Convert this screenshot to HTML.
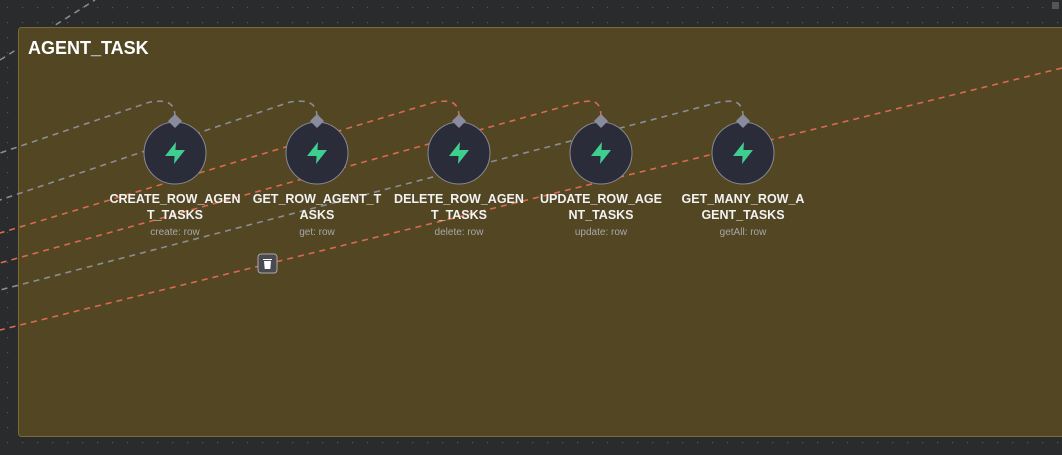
<!DOCTYPE html>
<html><head><style>
body{margin:0;width:1062px;height:450px;overflow:hidden;background:#2a2b2d;font-family:"Liberation Sans",sans-serif}
</style></head><body>
<svg width="1062" height="450" xmlns="http://www.w3.org/2000/svg">
<defs><pattern id="d" width="15" height="15" patternUnits="userSpaceOnUse"><rect x="7" y="7" width="1.2" height="1.2" fill="#55575a"/></pattern></defs>
<rect width="1062" height="450" fill="url(#d)"/>
<path d="M0,60 L95,0" stroke="#8a8d94" stroke-width="1.5" stroke-dasharray="6,5" fill="none"/>
<rect x="18.5" y="27.5" width="1060" height="409" rx="3" fill="#524623" stroke="#7a6b2e"/>
<text x="28" y="54" fill="#fff" font-size="18" font-weight="bold">AGENT_TASK</text>
<g fill="none" stroke-width="1.6" stroke-dasharray="6,5">
<path d="M175,117 C175,98 160,101 150,102 L0,153" stroke="#8a8d94"/>
<path d="M317,117 C317,98 300,101 290,102 L0,200" stroke="#8a8d94"/>
<path d="M459,117 C459,98 445,101 435,102 L0,233" stroke="#d96a4f"/>
<path d="M601,117 C601,98 590,101 580,102 L0,263" stroke="#d96a4f"/>
<path d="M743,117 C743,98 730,101 720,102 L0,290" stroke="#8a8d94"/>
<path d="M1062,68 L0,330" stroke="#d96a4f"/>
</g>
<g id="n">
</g>
<g stroke="#8a8a94" stroke-width="1">
<circle cx="175" cy="153" r="31" fill="#2a2c3a"/><circle cx="317" cy="153" r="31" fill="#2a2c3a"/><circle cx="459" cy="153" r="31" fill="#2a2c3a"/><circle cx="601" cy="153" r="31" fill="#2a2c3a"/><circle cx="743" cy="153" r="31" fill="#2a2c3a"/>
</g>
<g fill="#8a8b9c">
<path d="M175,114l7,7-7,7-7-7z"/><path d="M317,114l7,7-7,7-7-7z"/><path d="M459,114l7,7-7,7-7-7z"/><path d="M601,114l7,7-7,7-7-7z"/><path d="M743,114l7,7-7,7-7-7z"/>
</g>
<g fill="#3ecf8e">
<path transform="translate(175,153)" d="M1,-11 L-10,3 L0,3 Z M-1,11 L10,-3 L0,-3 Z"/>
<path transform="translate(317,153)" d="M1,-11 L-10,3 L0,3 Z M-1,11 L10,-3 L0,-3 Z"/>
<path transform="translate(459,153)" d="M1,-11 L-10,3 L0,3 Z M-1,11 L10,-3 L0,-3 Z"/>
<path transform="translate(601,153)" d="M1,-11 L-10,3 L0,3 Z M-1,11 L10,-3 L0,-3 Z"/>
<path transform="translate(743,153)" d="M1,-11 L-10,3 L0,3 Z M-1,11 L10,-3 L0,-3 Z"/>
</g>
<g fill="#f2f2f2" font-size="12.5" font-weight="bold" text-anchor="middle">
<text x="175" y="203">CREATE_ROW_AGEN</text><text x="175" y="219">T_TASKS</text>
<text x="317" y="203">GET_ROW_AGENT_T</text><text x="317" y="219">ASKS</text>
<text x="459" y="203">DELETE_ROW_AGEN</text><text x="459" y="219">T_TASKS</text>
<text x="601" y="203">UPDATE_ROW_AGE</text><text x="601" y="219">NT_TASKS</text>
<text x="743" y="203">GET_MANY_ROW_A</text><text x="743" y="219">GENT_TASKS</text>
</g>
<g fill="#a8a8a8" font-size="10" text-anchor="middle">
<text x="175" y="235">create: row</text><text x="317" y="235">get: row</text><text x="459" y="235">delete: row</text><text x="601" y="235">update: row</text><text x="743" y="235">getAll: row</text>
</g>
<rect x="258" y="254" width="19" height="19" rx="3" fill="#4a4b50" stroke="#aaa"/>
<path d="M263,259h9v1h-9z M264,261h7l-0.7,8h-5.6z" fill="#fff"/>
<rect x="1052" y="2" width="7" height="7" fill="#555"/>
</svg>
</body></html>
